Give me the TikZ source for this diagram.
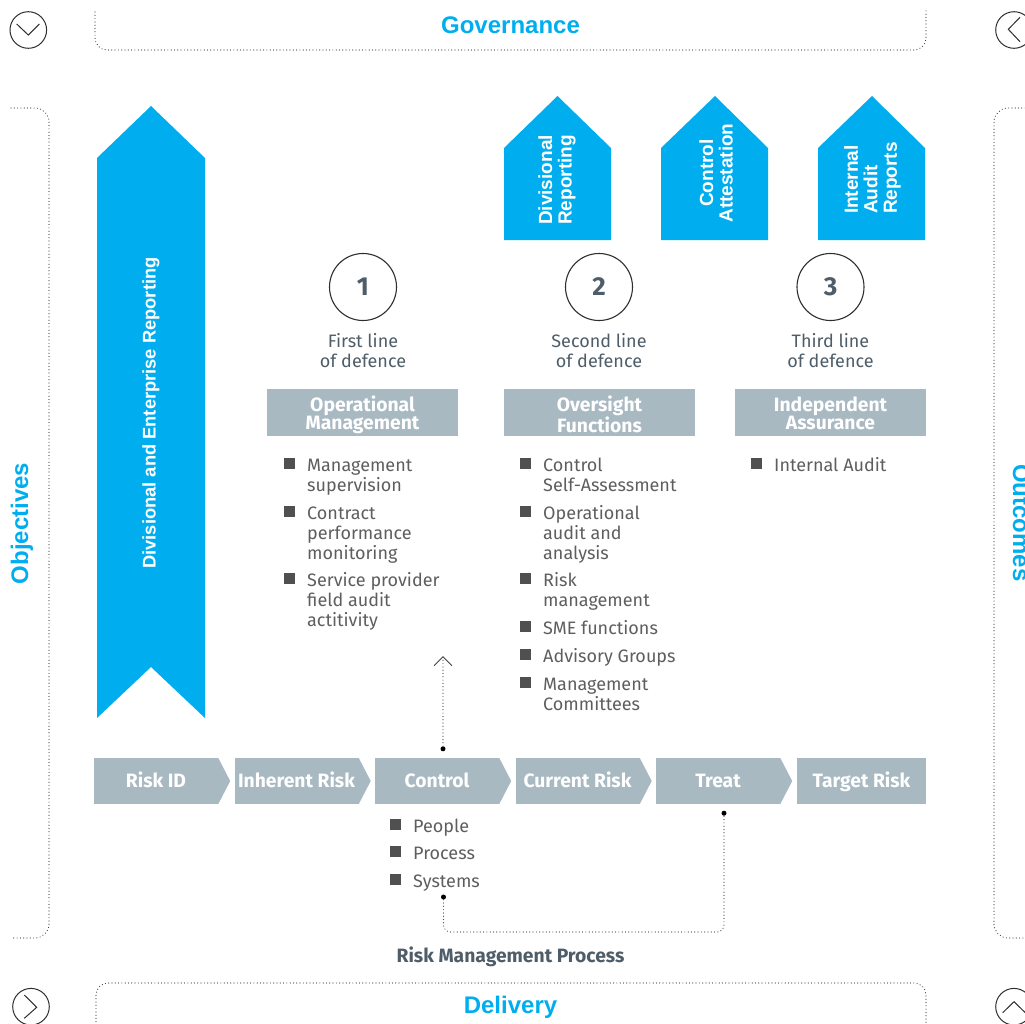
\documentclass[tikz,border=0pt]{standalone}
\usepackage{fontspec}
\setmainfont{Fira Sans}
\newfontfamily\helv{Liberation Sans}
\usetikzlibrary{arrows.meta}

\definecolor{brandblue}{HTML}{00AEEF}
\definecolor{boxgrey}{HTML}{A9B9C2}
\definecolor{bodygrey}{HTML}{5E5E5E}
\definecolor{bulletgrey}{HTML}{505050}
\definecolor{slate}{HTML}{4E5D68}
\definecolor{dotgrey}{HTML}{404040}
\definecolor{ringgrey}{HTML}{2E2E2E}

% one bullet point: name, x, baseline y, lines
\newcommand\listitem[4]{%
  \node[itemtxt, anchor=base west] (#1) at (#2,#3) {\begin{tabular}[t]{@{}l@{}}#4\end{tabular}};
  \node[bsq] (#1-sq) at ({#2-17.5},{#3-8}) {};
}
% grey heading panel with a two-line title: name, centre x, lines
\newcommand\headpanel[3]{%
  \node[hdr] (#1) at (#2,412.5) {};
  \node[hdrtxt, anchor=base] (#1-t) at (#2,411) {\begin{tabular}[t]{@{}c@{}}#3\end{tabular}};
}

\begin{document}
\begin{tikzpicture}[x=1pt,y=-1pt,
  blueshape/.style={fill=brandblue, draw=none},
  dotline/.style={draw=dotgrey, line width=1.2pt, dash pattern=on 0pt off 3.3pt, line cap=round},
  ring/.style={circle, draw=ringgrey, line width=1.1pt, minimum size=67pt, inner sep=0,
    text=slate, font=\fontsize{26}{26}\selectfont\bfseries},
  icon/.style={circle, draw=ringgrey, line width=1pt, minimum size=36.6pt, inner sep=0},
  iconline/.style={draw=ringgrey, line width=1pt},
  hdr/.style={fill=boxgrey, minimum width=191pt, minimum height=47pt, inner sep=0},
  hdrtxt/.style={text=white, font=\fontsize{19.3}{18.5}\selectfont\bfseries, inner sep=0},
  stepbox/.style={fill=boxgrey, text=white, font=\fontsize{19.3}{20}\selectfont\bfseries,
    minimum height=46pt, inner sep=0, text height=13.5pt, text depth=0pt},
  lod/.style={text=slate, font=\fontsize{18}{20}\selectfont, inner sep=0},
  itemtxt/.style={text=bodygrey, font=\fontsize{18}{20}\selectfont, inner sep=0},
  bsq/.style={fill=bulletgrey, minimum size=11pt, inner sep=0},
  pin/.style={circle, fill=black, minimum size=5pt, inner sep=0},
  housetxt/.style={rotate=90, text=white, font=\helv\bfseries\fontsize{19}{19.5}\selectfont, inner sep=0},
  sidetitle/.style={text=brandblue, font=\helv\bfseries\fontsize{24}{24}\selectfont, inner sep=0},
]
\useasboundingbox (0,0) rectangle (1025,1023);

% ---- frame brackets and their titles
\draw[dotline, rounded corners=12pt] (95,12) -- (95,50) -- (926,50) -- (926,10);
\draw[dotline, rounded corners=12pt] (96,1035) -- (96,983) -- (926,983) -- (926,1035);
\draw[dotline, rounded corners=14pt] (11,108) -- (49,108) -- (49,938) -- (11,938);
\draw[dotline, rounded corners=14pt] (1035,108) -- (994,108) -- (994,938) -- (1035,938);
\node[sidetitle, anchor=base] (gov) at (510.5,33) {Governance};
\node[sidetitle, anchor=base] (del) at (510.5,1013) {Delivery};
\node[sidetitle, anchor=base, rotate=90] (obj) at (28,523.5) {Objectives};
\node[sidetitle, anchor=base, rotate=-90] (out) at (1013,523) {Outcomes};

% ---- corner navigation icons
\node[icon] (navtl) at (28.3,30) {};
\draw[iconline] (16.7,24) -- (28.3,35) -- (39.3,24);
\node[icon] (navtr) at (1014,30) {};
\draw[iconline] (1020,17.3) -- (1008.3,29.3) -- (1020,41.7);
\node[icon] (navbl) at (31,1006.7) {};
\draw[iconline] (24.3,995) -- (36.7,1007.3) -- (24.3,1018.3);
\node[icon] (navbr) at (1014,1006.7) {};
\draw[iconline] (1002.7,1012.7) -- (1014,1001.7) -- (1025.3,1012.7);

% ---- tall reporting arrow
\fill[blueshape] (97,158) -- (151,106) -- (205,158) -- (205,718) -- (151,667) -- (97,718) -- cycle;
\node[rotate=90, text=white, font=\helv\bfseries\fontsize{18.3}{19}\selectfont, inner sep=0]
  (vreport) at (151,413) {Divisional and Enterprise Reporting};

% ---- reporting houses
\foreach \x/\c in {504/557.5, 661/715, 818/872}
  \fill[blueshape] (\x,148) -- (\c,96) -- (\x+107,148) -- (\x+107,240) -- (\x,240) -- cycle;
\node[housetxt, align=center] (hdiv) at (557,180) {Divisional\\Reporting};
\node[housetxt, align=center] (hctl) at (716,173) {Control\\Attestation};
\node[housetxt, align=left] (hia) at (872.5,178) {Internal\\Audit\\Reports};

% ---- lines of defence
\node[ring] (c1) at (363,287) {1};
\node[ring] (c2) at (599,287) {2};
\node[ring] (c3) at (830.5,287) {3};
\node[lod, anchor=base] (l1) at (363,347) {\begin{tabular}[t]{@{}c@{}}First line\\of defence\end{tabular}};
\node[lod, anchor=base] (l2) at (599,347) {\begin{tabular}[t]{@{}c@{}}Second line\\of defence\end{tabular}};
\node[lod, anchor=base] (l3) at (830.5,347) {\begin{tabular}[t]{@{}c@{}}Third line\\of defence\end{tabular}};

\headpanel{h1}{362.5}{Operational\\Management}
\headpanel{h2}{599.5}{Oversight\\Functions}
\headpanel{h3}{830.5}{Independent\\Assurance}

% ---- bullet lists
\listitem{m1}{307}{471}{Management\\supervision}
\listitem{m2}{307}{519}{Contract\\performance\\monitoring}
\listitem{m3}{307}{586}{Service provider\\field audit\\actitivity}

\listitem{o1}{543}{471}{Control\\Self-Assessment}
\listitem{o2}{543}{519}{Operational\\audit and\\analysis}
\listitem{o3}{543}{586}{Risk\\management}
\listitem{o4}{543}{634}{SME functions}
\listitem{o5}{543}{662}{Advisory Groups}
\listitem{o6}{543}{690}{Management\\Committees}

\listitem{i1}{774}{471}{Internal Audit}

% ---- risk management process steps
\node[stepbox, minimum width=124pt] (s1) at (156,781) {Risk ID};
\node[stepbox, minimum width=124pt] (s2) at (296.5,781) {Inherent Risk};
\node[stepbox, minimum width=124pt] (control) at (437,781) {Control};
\node[stepbox, minimum width=124pt] (s4) at (577.5,781) {Current Risk};
\node[stepbox, minimum width=124pt] (treat) at (718,781) {Treat};
\node[stepbox, minimum width=129pt] (s6) at (861.5,781) {Target Risk};
\foreach \n in {s1,s2,control,s4,treat}
  \fill[boxgrey] (\n.north east) -- ([xshift=12pt]\n.east) -- (\n.south east) -- cycle;

\listitem{p1}{413}{832}{People}
\listitem{p2}{413}{859.5}{Process}
\listitem{p3}{413}{887}{Systems}

% ---- dotted links
\node[pin] (pa) at ([xshift=6pt,yshift=9pt]control.north) {};
\coordinate (tipup) at (443,656);
\draw[dotline, -{Straight Barb[length=9pt, width=18pt, line width=0.9pt]}] (pa) -- (tipup);

\node[pin] (pb) at (443.5,897) {};
\node[pin] (pt) at ([xshift=6pt,yshift=-9pt]treat.south) {};
\coordinate (lowrun) at (0,932);
\draw[dotline, rounded corners=7pt] (pb) -- (pb |- lowrun) -- (pt |- lowrun) -- (pt);

\node[anchor=base, text=slate, font=\fontsize{19.3}{20}\selectfont\bfseries, inner sep=0]
  (rmp) at (510.5,962) {Risk Management Process};
\end{tikzpicture}
\end{document}
